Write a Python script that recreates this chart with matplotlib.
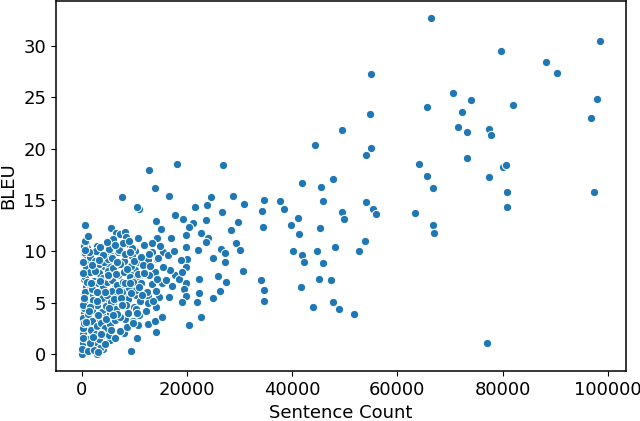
import matplotlib
matplotlib.use("Agg")
import matplotlib.pyplot as plt

# Sentence count (x) and BLEU (y)
sentence_count = [
    # right / sparse region
    66382, 79736, 98525, 88277, 90373, 54891, 70497, 74068, 65683, 72205,
    54736, 81910, 97904, 96739, 71429, 73214, 77400, 77800, 49534, 44332,
    54891, 53960, 73137, 64130, 80047, 80668, 26786, 18168, 12733, 47748,
    65683, 77484, 41770, 45497, 66692, 13898, 80745, 97438, 80900, 54115,
    55280, 55978, 63432, 49534, 49845, 45885, 37733, 38432, 34550, 34161,
    30745, 28727, 24457, 16615, 7686, 66692, 67003, 34472, 41149, 39674,
    41304, 45342, 53882, 52640, 48137, 44720, 40217, 41925, 42313, 45807,
    45031, 47360, 41615, 34083, 34550, 34550, 44022, 47748, 48835, 51786,
    77096,
    # middle region
    21506, 23835, 26708, 17702, 19255, 23525, 21196, 20342, 29658, 28261,
    22593, 19798, 17003, 23991, 23525, 29270, 29969, 26398, 22050, 19720,
    27174, 24923, 20031, 18789, 27174, 19876, 17780, 16692, 30667, 25932,
    27484, 22360, 19720, 17158, 26320, 19332, 22360, 19798, 24845, 21894,
    19022, 16537, 20342, 22671, 15217,
    # left dense region (visible points)
    543, 5512, 6444, 7220, 8152, 854, 10637, 4814, 2873, 9006,
    7065, 621, 3494, 6910, 10093, 9472, 5512, 8075, 854, 4115,
    5202, 6755, 1320, 10171, 9394, 3571, 5512, 466, 10792, 8152,
    6134, 776, 3804, 6366, 8540, 10248, 311, 2174, 6599, 4425,
    9006, 311, 5202, 2873, 8152, 9627, 5280, 311, 10714, 8075,
    2019, 10481, 5435, 233, 4037, 9317, 0, 2795, 12578, 12500,
    12578, 14130, 13898, 14053, 15264, 14751, 15217, 13898, 13276, 14286,
    13276, 14286, 15062, 14130, 12500, 15450, 10792, 10481, 14360,
    # left dense region (overlapping points)
    200, 300, 400, 500, 600, 700, 800, 900, 1000, 1100,
    1200, 1300, 1400, 1500, 1600, 1700, 1800, 1900, 2000, 2100,
    2200, 2300, 2400, 2500, 2600, 2700, 2800, 2900, 3000, 3100,
    3200, 3300, 3400, 3500, 3600, 3700, 3800, 3900, 4000, 4100,
    4200, 4300, 4400, 4500, 4600, 4700, 4800, 4900, 5000, 5100,
    5200, 5300, 5400, 5600, 5700, 5800, 5900, 6000, 6200, 6300,
    6400, 6500, 6600, 6800, 6900, 7000, 7200, 7300, 7500, 7600,
    7800, 8000, 8200, 8400, 8500, 8700, 8800, 9000, 9200, 9400,
    9600, 9800, 10000, 10200, 10400, 10600, 10800, 11000, 11300, 11600,
    11900, 12200, 12400, 12700, 13000, 13300, 13600, 14000, 14400, 14800,
    15500, 16000, 16300, 17500, 18500, 19000, 100, 150, 250, 350,
    450, 150, 250, 350, 120, 500, 1200, 2300, 3100, 3300,
    1500, 2600,
    # further overlapping points in the dense cluster
    400, 700, 1000, 1300, 1600, 1900, 2200, 2500, 2800, 3100,
    3400, 3700, 4000, 4300, 4600, 4900, 5200, 5500, 5800, 6100,
    6400, 6700, 7000, 7300, 7600, 7900, 8200, 8500, 8800, 9100,
    9400, 9700, 10000, 10300, 10600, 10900, 11200, 11500, 600, 1400,
    2000, 2900, 3600, 4400, 5000, 5900, 6600, 7400, 8300, 9200,
    1100, 1800, 3300, 4700, 6200, 7700, 9000, 10500, 11800, 12800,
]

bleu = [
    32.76, 29.48, 30.45, 28.47, 27.37, 27.24, 25.39, 24.71, 24.06, 23.54,
    23.34, 24.29, 24.84, 22.99, 22.14, 21.59, 21.95, 21.36, 21.85, 20.36,
    20.06, 19.42, 19.12, 18.54, 18.25, 18.41, 18.41, 18.47, 17.92, 17.08,
    17.34, 17.27, 16.62, 16.27, 16.14, 16.17, 15.75, 15.75, 14.32, 14.81,
    14.09, 13.67, 13.70, 13.86, 13.12, 14.87, 14.94, 14.09, 15.00, 13.96,
    14.61, 15.36, 15.29, 15.42, 15.26, 12.53, 11.82, 12.40, 13.28, 12.53,
    11.69, 12.31, 11.04, 10.06, 10.45, 10.03, 10.00, 9.61, 8.93, 8.83,
    7.31, 7.18, 6.56, 7.21, 6.23, 5.16, 4.55, 5.10, 4.38, 3.90,
    1.10,
    14.29, 14.55, 13.83, 13.54, 13.12, 13.02, 12.79, 12.34, 12.86, 12.08,
    11.82, 11.62, 11.27, 11.27, 10.91, 10.78, 10.10, 10.23, 10.13, 10.42,
    9.87, 9.38, 9.25, 9.12, 8.99, 8.44, 7.69, 8.21, 8.08, 7.63,
    6.98, 7.31, 6.95, 6.62, 6.14, 6.30, 5.97, 5.65, 5.42, 5.10,
    5.10, 5.55, 2.86, 3.57, 3.67,
    12.60, 12.27, 11.82, 11.66, 11.92, 10.94, 11.33, 10.81, 10.52, 10.75,
    10.52, 9.87, 9.87, 9.94, 10.00, 9.51, 9.51, 9.06, 8.86, 8.57,
    8.57, 8.67, 7.92, 8.18, 7.73, 7.60, 7.60, 7.27, 7.18, 6.56,
    6.36, 6.56, 6.36, 6.04, 5.91, 5.71, 5.68, 5.71, 5.13, 5.19,
    4.38, 4.03, 3.90, 3.38, 3.38, 3.25, 3.05, 2.95, 2.82, 2.08,
    1.92, 1.59, 1.36, 1.07, 0.52, 0.29, 0.00, 0.00, 5.65, 4.94,
    2.89, 2.14, 3.21, 4.58, 3.64, 5.55, 6.95, 7.99, 6.82, 7.34,
    9.94, 11.30, 12.14, 12.95, 9.16, 9.97, 14.09, 14.35, 9.25,
    2.0, 3.5, 4.5, 6.0, 7.5, 8.5, 9.2, 10.3, 1.5, 2.6,
    3.9, 5.0, 6.8, 8.0, 9.5, 0.8, 2.3, 3.2, 4.3, 5.3,
    6.2, 7.1, 8.3, 9.1, 10.0, 1.2, 2.7, 4.8, 5.9, 6.9,
    7.9, 8.8, 10.4, 0.6, 1.8, 3.0, 4.1, 5.5, 6.6, 7.4,
    9.0, 9.7, 2.5, 3.6, 4.7, 5.8, 7.0, 8.1, 9.3, 10.2,
    1.9, 2.9, 4.0, 5.1, 6.1, 7.2, 8.4, 11.2, 1.6, 3.3,
    4.4, 5.6, 6.7, 7.7, 8.9, 10.1, 2.2, 3.6, 4.9, 6.0,
    7.0, 8.0, 9.7, 11.4, 2.6, 4.2, 5.4, 6.4, 7.5, 8.6,
    10.3, 3.0, 4.6, 6.2, 7.4, 9.0, 3.8, 5.2, 6.9, 8.7,
    10.6, 4.2, 6.0, 7.7, 8.6, 10.8, 5.2, 6.1, 9.4, 10.5,
    8.5, 7.2, 9.6, 10.0, 7.3, 8.0, 0.5, 1.6, 2.5, 3.0,
    5.1, 7.9, 9.0, 10.5, 4.8, 11.0, 0.3, 0.4, 0.2, 1.5,
    1.1, 2.0,
    5.5, 3.1, 7.0, 9.9, 4.6, 6.3, 1.7, 8.1, 5.2, 3.8,
    7.1, 2.1, 9.6, 6.0, 3.4, 7.6, 4.5, 2.3, 9.4, 5.4,
    7.8, 3.9, 6.1, 8.8, 5.0, 10.8, 6.9, 8.3, 4.0, 9.9,
    5.9, 7.0, 9.1, 4.4, 7.8, 6.5, 9.5, 5.8, 10.1, 4.2,
    8.7, 6.0, 2.0, 1.0, 7.7, 3.8, 9.0, 5.5, 4.8, 6.9,
    11.5, 6.9, 9.2, 10.9, 10.6, 4.8, 11.0, 4.0, 7.9, 9.7,
]

fig = plt.figure(figsize=(6.4, 4.21), dpi=100)
ax = fig.add_axes([0.0875, 0.119, 0.8905, 0.879])
ax.scatter(sentence_count, bleu, s=36, color="#1f77b4",
           edgecolors="white", linewidths=0.75)
ax.set_xlabel("Sentence Count", fontsize=13)
ax.set_ylabel("BLEU", fontsize=13)
ax.tick_params(labelsize=13)
for sp in ax.spines.values():
    sp.set_linewidth(1.1)
ax.set_xticks([0, 20000, 40000, 60000, 80000, 100000])
ax.set_yticks([0, 5, 10, 15, 20, 25, 30])
fig.savefig("out.png", dpi=100)
